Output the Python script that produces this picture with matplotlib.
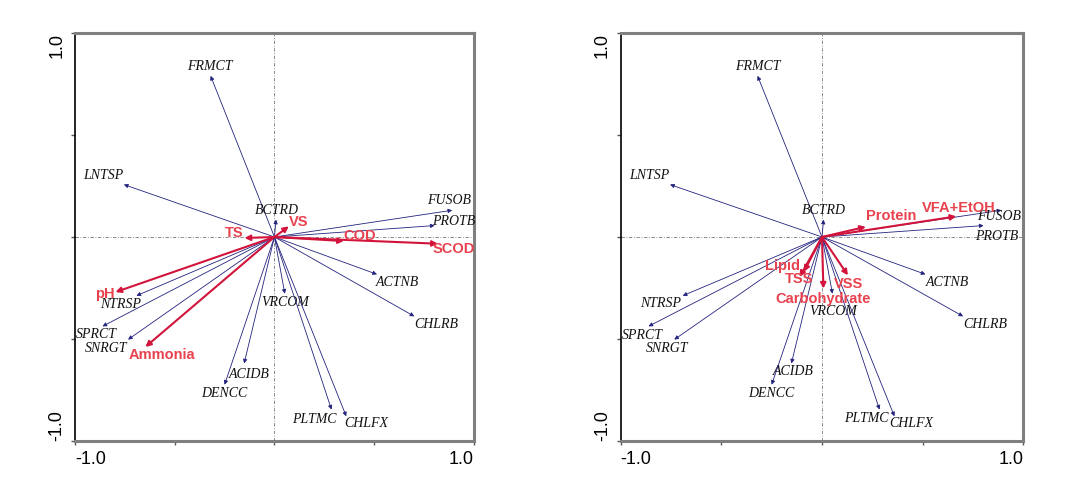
import numpy as np
import matplotlib.pyplot as plt

# Species scores (same taxa on both panels)
species = ["FRMCT", "LNTSP", "BCTRD", "FUSOB", "PROTB", "ACTNB", "CHLRB", "VRCOM",
           "CHLFX", "PLTMC", "ACIDB", "DENCC", "NTRSP", "SPRCT", "SNRGT"]
sp_x = [-0.32, -0.755, 0.008, 0.891, 0.803, 0.514, 0.701, 0.052,
        0.360, 0.286, -0.152, -0.250, -0.692, -0.862, -0.734]
sp_y = [0.790, 0.257, 0.085, 0.131, 0.056, -0.183, -0.389, -0.278,
        -0.879, -0.846, -0.620, -0.724, -0.288, -0.438, -0.503]

# Environmental variables, left panel
env1 = ["pH", "Ammonia", "TS", "VS", "COD", "SCOD"]
env1_x = [-0.797, -0.647, -0.150, 0.072, 0.348, 0.819]
env1_y = [-0.270, -0.539, -0.005, 0.052, -0.020, -0.033]

# Environmental variables, right panel
env2 = ["Protein", "VFA+EtOH", "Lipid", "TSS", "VSS", "Carbohydrate"]
env2_x = [0.218, 0.667, -0.111, -0.090, 0.129, 0.007]
env2_y = [0.050, 0.101, -0.196, -0.170, -0.188, -0.253]

# label positions (layout)
sp_lab1 = [(-0.326, 0.838), (-0.860, 0.302), (0.012, 0.131), (0.874, 0.180), (0.897, 0.077),
           (0.618, -0.224), (0.810, -0.428), (0.053, -0.319), (0.459, -0.915), (0.200, -0.894),
           (-0.125, -0.673), (-0.251, -0.768), (-0.772, -0.330), (-0.894, -0.479), (-0.844, -0.547)]
sp_lab2 = [(-0.321, 0.838), (-0.859, 0.302), (0.010, 0.131), (0.879, 0.098), (0.869, 0.0),
           (0.621, -0.224), (0.811, -0.428), (0.055, -0.363), (0.444, -0.915), (0.220, -0.891),
           (-0.141, -0.657), (-0.252, -0.768), (-0.803, -0.327), (-0.892, -0.482), (-0.770, -0.547)]
env_lab1 = [(-0.852, -0.278), (-0.563, -0.580), (-0.204, 0.021), (0.122, 0.074), (0.429, 0.003), (0.897, -0.060)]
env_lab2 = [(0.344, 0.101), (0.680, 0.144), (-0.194, -0.142), (-0.116, -0.208), (0.132, -0.232), (0.005, -0.302)]

BLUE = "#23237e"
RED = "#d2143c"
RED_TXT = "#e8424f"
GRAY = "#7f7f7f"


def draw_panel(ax, env, ex, ey, sp_lab, env_lab):
    ax.set_xlim(-1, 1)
    ax.set_ylim(-1, 1)
    ax.axhline(0, color="#777777", lw=0.6, ls=(0, (4, 2, 1, 2)), zorder=0)
    ax.axvline(0, color="#777777", lw=0.6, ls=(0, (4, 2, 1, 2)), zorder=0)

    for name, x, y, (lx, ly) in zip(species, sp_x, sp_y, sp_lab):
        ax.annotate("", xy=(x, y), xytext=(0, 0),
                    arrowprops=dict(arrowstyle="-|>", color=BLUE, lw=0.6,
                                    mutation_scale=6, shrinkA=0, shrinkB=0))
        ax.text(lx, ly, name, fontsize=10, fontstyle="italic",
                family="Liberation Serif", ha="center", va="center", color="#111111")

    for name, x, y, (lx, ly) in zip(env, ex, ey, env_lab):
        ax.annotate("", xy=(x, y), xytext=(0, 0),
                    arrowprops=dict(arrowstyle="-|>", color=RED, lw=1.5,
                                    mutation_scale=8, shrinkA=0, shrinkB=0), zorder=4)
        ax.text(lx, ly, name, fontsize=10.5, fontweight="bold",
                family="Liberation Sans", ha="center", va="center", color=RED_TXT, zorder=5)

    for side in ["top", "right", "bottom"]:
        ax.spines[side].set_color(GRAY)
        ax.spines[side].set_linewidth(2.2)
    ax.spines["left"].set_color("black")
    ax.spines["left"].set_linewidth(1.2)

    ticks = [-1, -0.5, 0, 0.5, 1]
    labels = ["-1.0", "", "", "", "1.0"]
    ax.set_xticks(ticks)
    ax.set_xticklabels(labels)
    ax.set_yticks(ticks)
    ax.set_yticklabels(labels, rotation=90, va="center")
    ax.tick_params(direction="out", length=3, width=1, color="#555555",
                   labelsize=13, pad=4)
    for t in ax.get_xticklabels():
        t.set_family("Liberation Sans")
    for t in ax.get_yticklabels():
        t.set_family("Liberation Sans")
    xl = ax.get_xticklabels()
    xl[0].set_ha("left")
    xl[-1].set_ha("right")
    yl = ax.get_yticklabels()
    yl[0].set_va("bottom")
    yl[-1].set_va("top")


fig = plt.figure(figsize=(10.88, 4.96), dpi=100)
ax1 = fig.add_axes([0.0689, 0.1109, 0.3667, 0.8226])
ax2 = fig.add_axes([0.5705, 0.1109, 0.3700, 0.8226])

draw_panel(ax1, env1, env1_x, env1_y, sp_lab1, env_lab1)
draw_panel(ax2, env2, env2_x, env2_y, sp_lab2, env_lab2)

fig.savefig("out.png", dpi=100)
